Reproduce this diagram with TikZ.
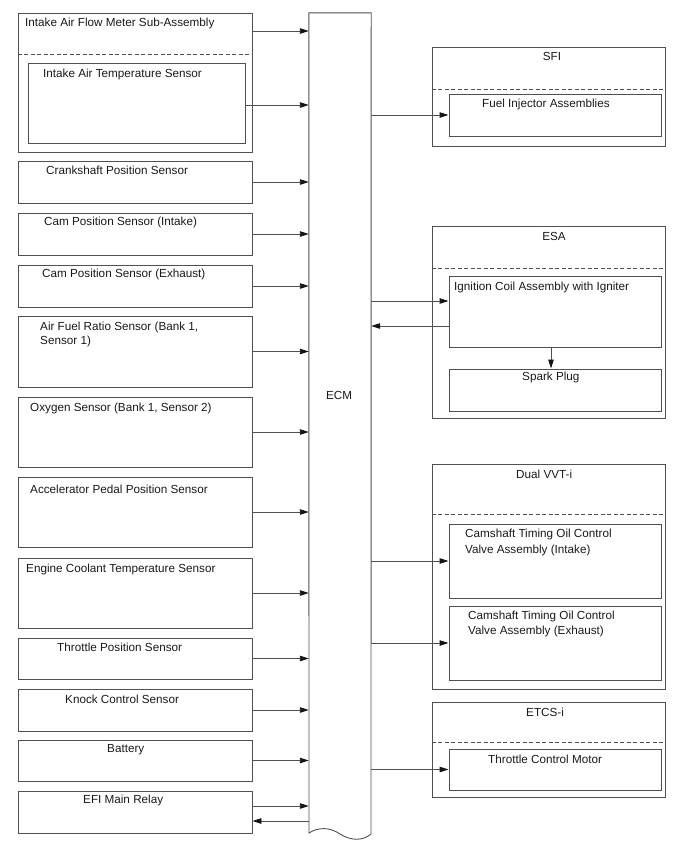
\documentclass[tikz,border=0pt]{standalone}
\usepackage{fontspec}
\setmainfont{Liberation Sans}
\usetikzlibrary{arrows.meta}
\definecolor{lc}{RGB}{80,80,80}
\definecolor{tc}{RGB}{25,25,25}
\definecolor{ac}{RGB}{20,20,20}
\begin{document}
\begin{tikzpicture}[x=1pt,y=-1pt,
  box/.style={draw=lc, line width=0.9pt, inner sep=0pt, minimum width=#1},
  lbox/.style={box=234pt},
  obox/.style={box=233pt},
  ibox/.style={box=212pt},
  lbl/.style={inner sep=0pt, anchor=west, text=tc, font=\fontsize{11.7}{14}\selectfont},
  mlbl/.style={inner sep=0pt, anchor=north west, align=left, text=tc},
  sep/.style={draw=lc, line width=0.9pt, dash pattern=on 4pt off 2.5pt},
  conn/.style={draw=lc, line width=0.9pt, -{Triangle[length=9pt,width=5.5pt,color=ac]}}
]
\useasboundingbox (0,0) rectangle (688,852);

% ECM
\node[inner sep=0pt, minimum width=62pt, minimum height=820pt] (ecm) at (340,423) {};
\draw[draw=lc, line width=0.9pt] (ecm.north west) -- (ecm.north east) -- (371,834)
  .. controls (363,841) and (351,841) .. (340,834)
  .. controls (330,827) and (318,827) .. (309,833) -- cycle;
\node[lbl, anchor=center] (ecmt) at (339,395) {ECM};

% left column
\node[lbox, minimum height=139pt] (afm) at (135,82.5) {};
\draw[sep] (afm.west |- 0,54) -- (afm.east |- 0,54);
\node[box=217pt, minimum height=80pt] (iat) at (136.5,103) {};
\node[lbox, minimum height=42pt] (crank) at (135,182) {};
\node[lbox, minimum height=42pt] (camin) at (135,234) {};
\node[lbox, minimum height=42pt] (camex) at (135,286) {};
\node[lbox, minimum height=71pt] (afr) at (135,351.5) {};
\node[lbox, minimum height=70pt] (oxy) at (135,432) {};
\node[lbox, minimum height=70pt] (app) at (135,512) {};
\node[lbox, minimum height=70pt] (ect) at (135,593) {};
\node[lbox, minimum height=41pt] (tps) at (135,658.5) {};
\node[lbox, minimum height=42pt] (knock) at (135,710) {};
\node[lbox, minimum height=41pt] (batt) at (135,760.5) {};
\node[lbox, minimum height=42pt] (efi) at (135,812) {};

\node[lbl] (afmt) at (25,23) {Intake Air Flow Meter Sub-Assembly};
\node[lbl] (iatt) at (43,74) {Intake Air Temperature Sensor};
\node[lbl] (crankt) at (46,170) {Crankshaft Position Sensor};
\node[lbl] (camint) at (44,222) {Cam Position Sensor (Intake)};
\node[lbl] (camext) at (42,274) {Cam Position Sensor (Exhaust)};
\node[mlbl, font=\fontsize{11.7}{13.5}\selectfont] (afrt) at (40,322) {Air Fuel Ratio Sensor (Bank 1,\\Sensor 1)};
\node[lbl] (oxyt) at (30,408) {Oxygen Sensor (Bank 1, Sensor 2)};
\node[lbl] (appt) at (30,489) {Accelerator Pedal Position Sensor};
\node[lbl] (ectt) at (26,569) {Engine Coolant Temperature Sensor};
\node[lbl] (tpst) at (57,647) {Throttle Position Sensor};
\node[lbl] (knockt) at (65,699) {Knock Control Sensor};
\node[lbl] (battt) at (107,750) {Battery};
\node[lbl] (efit) at (83,800) {EFI Main Relay};

% left arrows
\draw[conn] ([yshift=51.5pt]afm.east) -- ([yshift=51.5pt]afm.east -| ecm.west);
\draw[conn] ([yshift=-2pt]iat.east) -- ([yshift=-2pt]iat.east -| ecm.west);
\foreach \b in {crank,camin,camex,afr,oxy,app,ect,tps,knock,batt}
  \draw[conn] (\b.east) -- (\b.east -| ecm.west);
\draw[conn] ([yshift=6pt]efi.east) -- ([yshift=6pt]efi.east -| ecm.west);
\draw[conn] ([yshift=-9pt]efi.east -| ecm.west) -- ([yshift=-9pt]efi.east);

% right column
\node[obox, minimum height=99pt] (sfi) at (548.5,96.5) {};
\draw[sep] (sfi.west |- 0,89) -- (sfi.east |- 0,89);
\node[ibox, minimum height=42pt] (fi) at (555,115) {};
\node[obox, minimum height=192pt] (esa) at (548.5,322) {};
\draw[sep] (esa.west |- 0,268) -- (esa.east |- 0,268);
\node[ibox, minimum height=71pt] (ign) at (555,311.5) {};
\node[ibox, minimum height=42pt] (spark) at (555,390) {};
\node[obox, minimum height=225pt] (vvt) at (548.5,576.5) {};
\draw[sep] (vvt.west |- 0,514) -- (vvt.east |- 0,514);
\node[ibox, minimum height=74pt] (ocvin) at (555,561) {};
\node[ibox, minimum height=74pt] (ocvex) at (555,643) {};
\node[obox, minimum height=95pt] (etcs) at (548.5,749.5) {};
\draw[sep] (etcs.west |- 0,742) -- (etcs.east |- 0,742);
\node[ibox, minimum height=41pt] (tcm) at (555,769.5) {};

\node[lbl, anchor=center] (sfit) at (552,56) {SFI};
\node[lbl] (fit) at (482,104) {Fuel Injector Assemblies};
\node[lbl, anchor=center] (esat) at (554,236) {ESA};
\node[lbl] (ignt) at (454,287) {Ignition Coil Assembly with Igniter};
\node[lbl] (sparkt) at (522,377) {Spark Plug};
\node[lbl] (vvtt) at (516,474) {Dual VVT-i};
\node[mlbl, font=\fontsize{11.7}{15.5}\selectfont] (ocvint) at (465,529) {Camshaft Timing Oil Control\\Valve Assembly (Intake)};
\node[mlbl, font=\fontsize{11.7}{15.3}\selectfont] (ocvext) at (468,611) {Camshaft Timing Oil Control\\Valve Assembly (Exhaust)};
\node[lbl] (etcst) at (526,712) {ETCS-i};
\node[lbl] (tcmt) at (488,759) {Throttle Control Motor};

% right arrows
\draw[conn] (fi.west -| ecm.east) -- (fi.west);
\draw[conn] ([yshift=10.5pt]ign.west -| ecm.east) -- ([yshift=10.5pt]ign.west);
\draw[conn] ([yshift=-14.5pt]ign.west) -- ([yshift=-14.5pt]ign.west -| ecm.east);
\draw[conn] ([xshift=-4pt]ign.south) -- ([xshift=-4pt]spark.north);
\foreach \b in {ocvin,ocvex,tcm}
  \draw[conn] (\b.west -| ecm.east) -- (\b.west);
\end{tikzpicture}
\end{document}
